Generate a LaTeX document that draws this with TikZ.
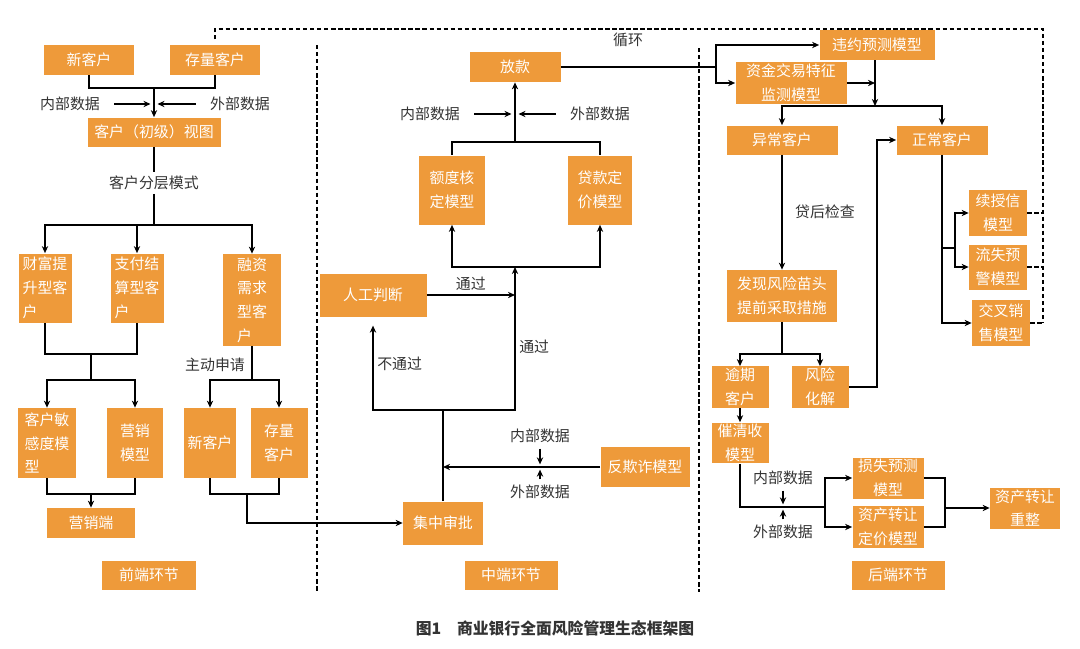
\documentclass[tikz,border=0pt]{standalone}
\usepackage{fontspec}
\setmainfont{Noto Sans CJK SC}
\usetikzlibrary{arrows.meta}
\usetikzlibrary{positioning}

\definecolor{boxorange}{RGB}{238,154,58}
\definecolor{notegray}{RGB}{51,51,51}

\begin{document}
\begin{tikzpicture}[
    x=0.02cm, y=-0.02cm,
    >={Stealth[length=4pt,width=3.6pt]},
    every node/.style={font=\fontsize{8.5pt}{13.5pt}\selectfont},
    stage/.style 2 args={rectangle, fill=boxorange, text=white, inner sep=1pt,
        minimum width=#1*0.02cm, minimum height=#2*0.02cm, align=center},
    note/.style={text=notegray, inner sep=2pt},
    link/.style={line width=0.9pt},
    loopline/.style={line width=0.6pt, dash pattern=on 2.5pt off 1.5pt}
]
\useasboundingbox (0,0) rectangle (1080,649);

% Nodes: front
\node[stage={90}{30}] (newA) at (89,60) {新客户};
\node[stage={90}{30}] (stockA) at (215,60) {存量客户};
\node[note] (inA) at (70,104) {内部数据};
\node[note] (outA) at (240,104) {外部数据};
\node[stage={133}{29}] (view) at (154,132) {客户（初级）视图};
\node[note] (layer) at (154,183) {客户分层模式};
\node[stage={53}{69}, align=left] (wealth) at (45,288) {财富提\\升型客\\户};
\node[stage={53}{69}, align=left] (pay) at (137,288) {支付结\\算型客\\户};
\node[stage={58}{92}, align=left] (finance) at (252,300) {融资\\需求\\型客\\户};
\node[stage={58}{70}, align=left] (sens) at (47,443) {客户敏\\感度模\\型};
\node[stage={56}{70}] (mkt) at (135,443) {营销\\模型};
\node[stage={88}{30}] (mktEnd) at (91,523) {营销端};
\node[note] (apply) at (215,365) {主动申请};
\node[stage={52}{70}] (newB) at (210,443) {新客户};
\node[stage={57}{70}] (stockB) at (279,443) {存量\\客户};
\node[stage={94}{29}] (front) at (149,575) {前端环节};

% Nodes: middle
\node[stage={91}{30}] (loan) at (515,67) {放款};
\node[note] (inB) at (430,114) {内部数据};
\node[note] (outB) at (600,114) {外部数据};
\node[stage={66}{69}] (quota) at (452,190) {额度核\\定模型};
\node[stage={64}{69}] (price) at (600,190) {贷款定\\价模型};
\node[stage={107}{43}] (manual) at (373,295) {人工判断};
\node[stage={89}{40}] (anti) at (645,467) {反欺诈模型};
\node[note] (inC) at (540,436) {内部数据};
\node[note] (outC) at (540,492) {外部数据};
\node[stage={80}{43}] (central) at (443,523) {集中审批};
\node[stage={93}{29}] (mid) at (511,575) {中端环节};

% Nodes: back
\node[stage={115}{30}] (default) at (877,45) {违约预测模型};
\node[stage={111}{41}] (fund) at (791,83) {资金交易特征\\监测模型};
\node[stage={111}{29}] (abn) at (782,140) {异常客户};
\node[stage={91}{29}] (norm) at (942,140) {正常客户};
\node[stage={110}{52}] (find) at (782,296) {发现风险苗头\\提前采取措施};
\node[stage={57}{39}] (overdue) at (740,387) {逾期\\客户};
\node[stage={57}{39}] (resolve) at (820,387) {风险\\化解};
\node[stage={58}{46}] (renew) at (998,213) {续授信\\模型};
\node[stage={58}{45}] (churn) at (998,267) {流失预\\警模型};
\node[stage={58}{46}] (cross) at (1001,323) {交叉销\\售模型};
\node[stage={57}{39}] (collect) at (740,443) {催清收\\模型};
\node[note] (inD) at (783,478) {内部数据};
\node[note] (outD) at (783,532) {外部数据};
\node[stage={71}{41}] (loss) at (888,478) {损失预测\\模型};
\node[stage={71}{41}] (transfer) at (888,527) {资产转让\\定价模型};
\node[stage={70}{41}] (rebuild) at (1025,508) {资产转让\\重整};
\node[stage={93}{29}] (back) at (898,575) {后端环节};

\node[font=\fontsize{9pt}{11pt}\selectfont\bfseries, text=notegray] (caption) at (555,628) {图1\quad 商业银行全面风险管理生态框架图};

% Junctions
\coordinate (jA) at (154,88);
\coordinate (jB) at (154,225);
\coordinate (jC) at (91,354);
\coordinate (jD) at (91,380);
\coordinate (jE) at (91,494);
\coordinate (jF) at (252,380);
\coordinate (jG) at (247,494);
\coordinate (jH) at (515,142);
\coordinate (jI) at (515,267);
\coordinate (jJ) at (515,410);
\coordinate (jL) at (443,410);
\coordinate (jM) at (716,67);
\coordinate (jN) at (875,106);
\coordinate (jO) at (782,354);
\coordinate (jP) at (877,140);
\coordinate (jR) at (942,248);
\coordinate (jS) at (955,248);
\coordinate (jU) at (825,507);
\coordinate (jV) at (945,508);
\coordinate (loopR) at (1043,29);
\coordinate (loopB) at (1043,323);

% Separators
\draw[loopline] (317,45) -- (317,592);
\draw[loopline] (699,48) -- (699,592);

% Edges: front
\draw[link] (newA.south) |- (jA) -| (stockA.south);
\draw[link,->] (jA) -- (view.north);
\draw[link,->, shorten <=6pt, shorten >=2pt] (inA.east) -- (inA -| jA);
\draw[link,->, shorten <=6pt, shorten >=2pt] (outA.west) -- (outA -| jA);
\draw[link] (view.south) -- (layer.north);
\draw[link] (layer.south) -- (jB);
\draw[link,->] (jB) -| (wealth.north);
\draw[link,->] (jB) -| (pay.north);
\draw[link,->] (jB) -| (finance.north);
\draw[link] (wealth.south) |- (jC) -| (pay.south);
\draw[link] (jC) -- (jD);
\draw[link,->] (jD) -| (sens.north);
\draw[link,->] (jD) -| (mkt.north);
\draw[link] (sens.south) |- (jE) -| (mkt.south);
\draw[link,->] (jE) -- (mktEnd.north);
\draw[link] (finance.south) -- (jF);
\draw[link,->] (jF) -| (newB.north);
\draw[link,->] (jF) -| (stockB.north);
\draw[link] (newB.south) |- (jG) -| (stockB.south);
\draw[link,->] (jG) |- (central.west);

% Edges: middle
\draw[link,->] (jH) -- (loan.south);
\draw[link] (quota.north) |- (jH) -| (price.north);
\draw[link,->, shorten <=6pt, shorten >=2pt] (inB.east) -- (inB -| jH);
\draw[link,->, shorten <=6pt, shorten >=2pt] (outB.west) -- (outB -| jH);
\draw[link,->] (jI) -| (quota.south);
\draw[link,->] (jI) -| (price.south);
\draw[link] (central.north) -- (jL);
\draw[link,->] (jL) -| node[pos=0.72, right, note] {通过} (jI);
\draw[link,->, shorten >=5pt] (jL) -| node[pos=0.75, right, note] {不通过} (manual.south);
\draw[link,->] (manual.east) -- node[above, note] {通过} (manual -| jI);
\draw[link,->] (anti.west) -- (anti -| jL);
\draw[link,->, shorten <=1pt, shorten >=1.5pt] (inC.south) -- (inC.south |- anti);
\draw[link,->, shorten <=1pt, shorten >=1.5pt] (outC.north) -- (outC.north |- anti);

% Edges: back
\draw[link] (loan.east) -- (jM);
\draw[link,->] (jM) |- (default.west);
\draw[link,->] (jM) |- (fund.west);
\draw[link,->] (fund.east) -- (fund.east -| jN);
\draw[link,->] (default.south -| jN) -- (jN);
\draw[link,->] (jN) -| (abn.north);
\draw[link,->] (jN) -| (norm.north);
\draw[link,->] (abn.south) -- node[right=5pt, note] {贷后检查} (find.north);
\draw[link] (find.south) -- (jO);
\draw[link,->] (jO) -| (overdue.north);
\draw[link,->] (jO) -| (resolve.north);
\draw[link,->] (resolve.east) -| (jP) -- (norm.west);
\draw[link,->] (norm.south) |- (cross.west);
\draw[link] (jR) -- (jS);
\draw[link,->] (jS) |- (renew.west);
\draw[link,->] (jS) |- (churn.west);
\draw[link,->] (overdue.south) -- (collect.north);
\draw[link] (collect.south) |- (jU);
\draw[link,->] (jU) |- (loss.west);
\draw[link,->] (jU) |- (transfer.west);
\draw[link,->, shorten <=1pt, shorten >=1.5pt] (inD.south) -- (inD.south |- jU);
\draw[link,->, shorten <=1pt, shorten >=1.5pt] (outD.north) -- (outD.north |- jU);
\draw[link] (loss.east) -| (jV);
\draw[link] (transfer.east) -| (jV);
\draw[link,->] (jV) -- (rebuild.west);

% Loop
\draw[loopline, shorten <=3pt] (stockA.north) |- (loopR) -- (loopB);
\node[note] (loopText) at (628,40) {循环};
\draw[loopline] (renew.east) -- (renew.east -| loopB);
\draw[loopline] (churn.east) -- (churn.east -| loopB);
\draw[loopline] (cross.east) -- (cross.east -| loopB);

\end{tikzpicture}
\end{document}
